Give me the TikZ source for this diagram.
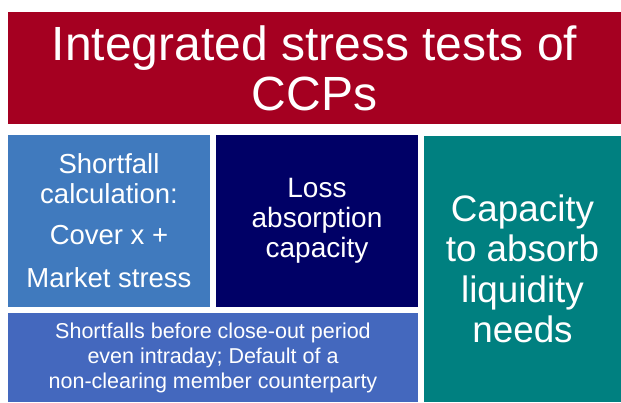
\documentclass[tikz,border=0pt]{standalone}
\usepackage{fontspec}
\setmainfont{Liberation Sans}
\definecolor{cred}{HTML}{A50021}
\definecolor{cblue}{HTML}{407ABE}
\definecolor{cnavy}{HTML}{000066}
\definecolor{cteal}{HTML}{008080}
\definecolor{cbot}{HTML}{4468BE}
\tikzset{
  panel/.style={rectangle, inner sep=0pt, outer sep=0pt, draw=none, text=white, align=center, anchor=center},
}
\begin{document}
\begin{tikzpicture}[x=1pt,y=-1pt]
\useasboundingbox[fill=white] (0,0) rectangle (621,402);
\node[panel, fill=cred, minimum width=613pt, minimum height=112pt,
  font=\fontsize{48}{50}\selectfont] (title) at (314.5,68) {Integrated stress tests of\\CCPs};
\node[panel, fill=cblue, minimum width=202pt, minimum height=172pt,
  font=\fontsize{27.5}{30}\selectfont] (shortfall) at (109,221)
  {Shortfall\\calculation:\\[11pt]Cover x +\\[13pt]Market stress};
\node[panel, fill=cnavy, minimum width=202pt, minimum height=172pt,
  font=\fontsize{28}{30}\selectfont] (loss) at (317,221)
  {Loss\\absorption\\capacity};
\node[panel, fill=cteal, minimum width=197pt, minimum height=266pt,
  font=\fontsize{36.8}{40.5}\selectfont] (liq) at (522.5,269)
  {Capacity\\to absorb\\liquidity\\needs};
\node[panel, fill=cbot, minimum width=410pt, minimum height=89pt,
  font=\fontsize{21.5}{25}\selectfont] (bottom) at (213,357.5)
  {Shortfalls before close-out period\\even intraday; Default of a\\non-clearing member counterparty};
\end{tikzpicture}
\end{document}
